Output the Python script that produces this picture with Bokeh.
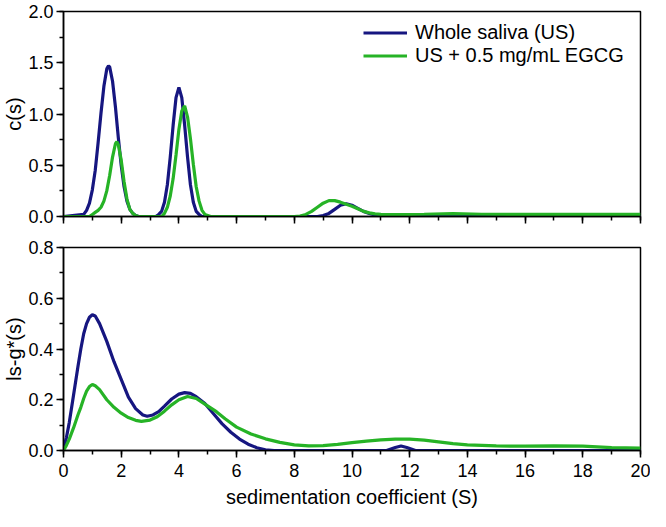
from bokeh.plotting import figure
from bokeh.layouts import column
from bokeh.models import Range1d, SingleIntervalTicker, NumeralTickFormatter, Legend, LegendItem
from bokeh.embed import file_html
from bokeh.resources import INLINE

# ---- data ----
series_names = ["Whole saliva (US)", "US + 0.5 mg/mL EGCG"]

# top panel: c(s)
cs_blue_x = [0, 0.7, 0.8, 0.9, 1.0, 1.1, 1.2, 1.3, 1.4, 1.5,
             1.56, 1.6, 1.7, 1.8, 1.9, 2.0, 2.1, 2.2, 2.3, 2.4,
             2.5, 2.6, 3.2, 3.3, 3.4, 3.5, 3.6, 3.7, 3.8, 3.9,
             4.0, 4.1, 4.2, 4.3, 4.4, 4.5, 4.6, 4.7, 4.8, 8.8,
             9.0, 9.2, 9.4, 9.6, 9.8, 10.0, 10.2, 10.4, 10.6, 10.8,
             11.0, 11.4, 20]
cs_blue_y = [0, 0.02, 0.06, 0.13, 0.26, 0.45, 0.72, 1.01, 1.27, 1.44,
             1.47, 1.46, 1.32, 1.07, 0.77, 0.50, 0.29, 0.15, 0.07, 0.03,
             0.01, 0, 0, 0.02, 0.05, 0.14, 0.31, 0.58, 0.89, 1.16,
             1.26, 1.16, 0.89, 0.58, 0.31, 0.14, 0.05, 0.02, 0, 0,
             0.01, 0.03, 0.07, 0.11, 0.125, 0.11, 0.08, 0.05, 0.03, 0.015,
             0.007, 0, 0]

cs_green_x = [0, 0.9, 1.0, 1.1, 1.2, 1.3, 1.4, 1.5, 1.6, 1.7,
              1.8, 1.85, 1.9, 2.0, 2.1, 2.2, 2.3, 2.4, 2.5, 2.6,
              3.4, 3.5, 3.6, 3.7, 3.8, 3.9, 4.0, 4.1, 4.2, 4.3,
              4.4, 4.5, 4.6, 4.7, 4.8, 4.9, 5.0, 5.1, 8.0, 8.2,
              8.4, 8.6, 8.8, 9.0, 9.2, 9.4, 9.6, 9.8, 10.0, 10.2,
              10.4, 10.6, 10.8, 11.0, 11.5, 12.5, 13.5, 14.5, 16, 18,
              20]
cs_green_y = [0, 0, 0.02, 0.04, 0.06, 0.09, 0.15, 0.25, 0.40, 0.58,
              0.71, 0.73, 0.70, 0.55, 0.34, 0.17, 0.07, 0.03, 0.01, 0,
              0, 0.03, 0.09, 0.20, 0.37, 0.60, 0.85, 1.03, 1.08, 0.97,
              0.76, 0.51, 0.29, 0.15, 0.06, 0.02, 0.01, 0, 0, 0.005,
              0.02, 0.05, 0.09, 0.13, 0.155, 0.155, 0.14, 0.12, 0.10, 0.075,
              0.05, 0.035, 0.025, 0.02, 0.018, 0.022, 0.028, 0.022, 0.02, 0.02,
              0.02]

# bottom panel: ls-g*(s)
g_blue_x = [0, 0.1, 0.2, 0.35, 0.5, 0.6, 0.7, 0.8, 0.9, 1.0,
            1.1, 1.25, 1.5, 1.75, 2.0, 2.25, 2.5, 2.75, 2.9, 3.1,
            3.3, 3.5, 3.75, 4.0, 4.2, 4.4, 4.6, 4.9, 5.2, 5.5,
            5.8, 6.1, 6.4, 6.7, 7.0, 7.3, 11.2, 11.5, 11.7, 11.9,
            12.2, 20]
g_blue_y = [0.01, 0.05, 0.11, 0.22, 0.33, 0.40, 0.46, 0.50, 0.525, 0.535,
            0.53, 0.50, 0.43, 0.35, 0.28, 0.21, 0.165, 0.14, 0.135, 0.14,
            0.153, 0.175, 0.203, 0.222, 0.228, 0.225, 0.212, 0.185, 0.145, 0.105,
            0.072, 0.045, 0.025, 0.011, 0.003, 0, 0, 0.012, 0.018, 0.012,
            0, 0]

g_green_x = [0.0, 0.1, 0.2, 0.35, 0.5, 0.6, 0.7, 0.8, 0.9, 1.0,
             1.1, 1.25, 1.5, 1.75, 2.0, 2.25, 2.5, 2.7, 3.0, 3.25,
             3.5, 3.75, 4.0, 4.3, 4.6, 4.9, 5.3, 5.6, 6.0, 6.5,
             7.0, 7.5, 8.0, 8.5, 9.0, 9.5, 10.0, 10.5, 11.0, 11.5,
             12.0, 12.5, 13.0, 13.5, 14.0, 15.0, 16.0, 17.0, 18.0, 19.0,
             20.0]
g_green_y = [0.0, 0.02, 0.045, 0.09, 0.14, 0.17, 0.205, 0.234, 0.252, 0.26,
             0.255, 0.24, 0.20, 0.17, 0.147, 0.13, 0.119, 0.115, 0.12, 0.133,
             0.155, 0.18, 0.2, 0.213, 0.205, 0.183, 0.153, 0.125, 0.092, 0.065,
             0.046, 0.032, 0.022, 0.018, 0.019, 0.024, 0.031, 0.037, 0.042, 0.045,
             0.045, 0.041, 0.034, 0.027, 0.022, 0.018, 0.017, 0.018, 0.017, 0.011,
             0.009]

BLUE = "#161680"
GREEN = "#26b326"
FONT = "Liberation Sans"
LW = 3.2


def style(p, xt_interval, yt_interval, y_fmt, show_x_labels):
    p.grid.visible = False
    p.outline_line_color = "black"
    p.outline_line_width = 1.5
    p.background_fill_color = "white"
    p.border_fill_color = "white"
    p.xaxis.ticker = SingleIntervalTicker(interval=xt_interval, num_minor_ticks=2)
    p.yaxis.ticker = SingleIntervalTicker(interval=yt_interval, num_minor_ticks=2)
    p.yaxis.formatter = NumeralTickFormatter(format=y_fmt)
    for ax in (p.xaxis[0], p.yaxis[0]):
        ax.axis_line_color = "black"
        ax.axis_line_width = 1.5
        ax.major_tick_line_color = "black"
        ax.minor_tick_line_color = "black"
        ax.major_tick_line_width = 1.5
        ax.minor_tick_line_width = 1.5
        ax.major_tick_out = 7
        ax.major_tick_in = 0
        ax.minor_tick_out = 4
        ax.minor_tick_in = 0
        ax.major_label_text_font = FONT
        ax.major_label_text_font_size = "18px"
        ax.major_label_text_color = "black"
        ax.axis_label_text_font = FONT
        ax.axis_label_text_font_size = "20px"
        ax.axis_label_text_font_style = "normal"
        ax.axis_label_text_color = "black"
    p.yaxis.major_label_standoff = 3
    p.yaxis.axis_label_standoff = 0
    p.xaxis.major_label_standoff = 6
    p.xaxis.axis_label_standoff = 6
    if not show_x_labels:
        p.xaxis.major_label_text_font_size = "0px"
        p.xaxis.major_label_text_color = None


p1 = figure(width=650, height=234, x_range=Range1d(0, 20), y_range=Range1d(0, 2),
            output_backend="svg", toolbar_location=None,
            min_border_left=58, min_border_right=10, min_border_top=11, min_border_bottom=18)
style(p1, 2, 0.5, "0.0", False)
p1.yaxis.axis_label = "c(s)"
r1 = p1.line(cs_blue_x, cs_blue_y, line_color=BLUE, line_width=LW)
r2 = p1.line(cs_green_x, cs_green_y, line_color=GREEN, line_width=LW)
leg = Legend(items=[LegendItem(label=series_names[0], renderers=[r1]),
                    LegendItem(label=series_names[1], renderers=[r2])],
             location=(300, 149))
leg.label_text_font = FONT
leg.label_text_font_size = "20px"
leg.label_text_color = "black"
leg.glyph_width = 44
leg.glyph_height = 21
leg.label_height = 21
leg.label_standoff = 8
leg.spacing = 0
leg.padding = 0
leg.margin = 0
leg.border_line_color = None
leg.background_fill_alpha = 0
p1.add_layout(leg)

p2 = figure(width=650, height=276, x_range=Range1d(0, 20), y_range=Range1d(0, 0.8),
            output_backend="svg", toolbar_location=None,
            min_border_left=58, min_border_right=10, min_border_top=13, min_border_bottom=58)
style(p2, 2, 0.2, "0.0", True)
p2.yaxis.axis_label = "ls-g*(s)"
p2.xaxis.axis_label = "sedimentation coefficient (S)"
p2.line(g_blue_x, g_blue_y, line_color=BLUE, line_width=LW)
p2.line(g_green_x, g_green_y, line_color=GREEN, line_width=LW)

layout = column(p1, p2, spacing=0)
open("out.html", "w").write(file_html(layout, INLINE))
